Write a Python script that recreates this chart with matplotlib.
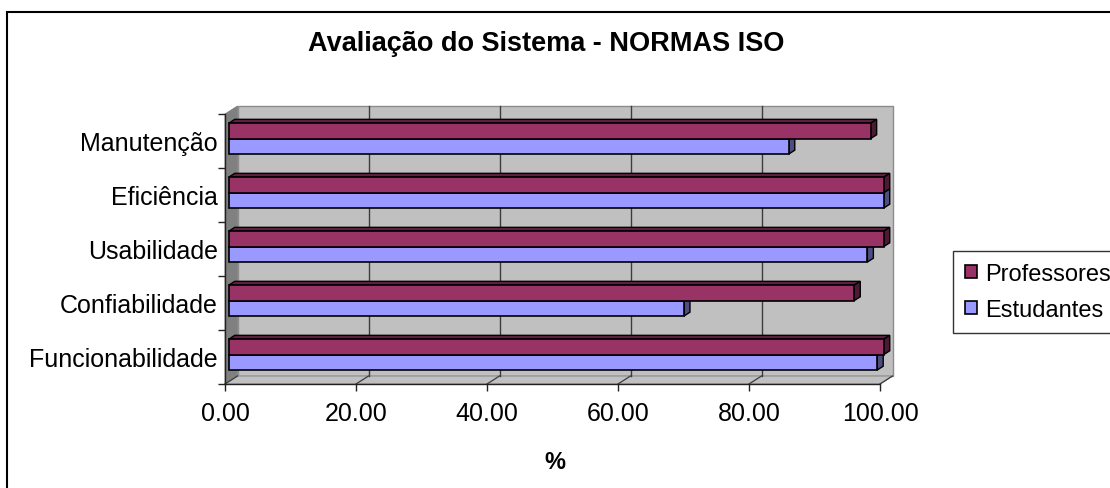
import matplotlib
matplotlib.use("Agg")
import matplotlib.pyplot as plt
from matplotlib.patches import Polygon, Rectangle, Patch

plt.rcParams['font.family'] = ['Liberation Sans', 'DejaVu Sans']

# Data
categories = ["Funcionabilidade", "Confiabilidade", "Usabilidade", "Eficiência", "Manutenção"]
estudantes = [99.0, 69.5, 97.5, 100.0, 85.5]
professores = [100.0, 95.5, 100.0, 100.0, 98.0]
series_names = ["Professores", "Estudantes"]
xticks = [0, 20, 40, 60, 80, 100]
xtick_labels = ["0.00", "20.00", "40.00", "60.00", "80.00", "100.00"]
title = "Avaliação do Sistema - NORMAS ISO"
xlabel = "%"

# Colours
c_prof, c_prof_side, c_prof_top = "#993366", "#4D1A33", "#5E2140"
c_est, c_est_side, c_est_top = "#9999FF", "#4D4D80", "#6B6BB3"
c_wall, c_side_wall, c_floor = "#C0C0C0", "#808080", "#C0C0C0"

W, H = 1110, 489
fig = plt.figure(figsize=(W / 100, H / 100), dpi=100)

# front plane of the 3-D box
ax_left, ax_bottom, ax_w, ax_h = 225, 104, 655, 270
ax = fig.add_axes([ax_left / W, ax_bottom / H, ax_w / W, ax_h / H])
ax.set_xlim(0, 100)
ax.set_ylim(-0.5, len(categories) - 0.5)
ax.patch.set_visible(False)

# depth of the box (pixels -> data units)
depth_px_x, depth_px_y = 12.5, 8.0
dx = depth_px_x / ax_w * 100
dy = depth_px_y / ax_h * len(categories)
y0, y1 = -0.5, len(categories) - 0.5

# back wall, side wall, floor
ax.add_patch(Polygon([(dx, y0 + dy), (100 + dx, y0 + dy), (100 + dx, y1 + dy), (dx, y1 + dy)],
                     closed=True, facecolor=c_wall, edgecolor="#8C8C8C", lw=1.0, zorder=0.5, clip_on=False))
ax.add_patch(Polygon([(0, y0), (0, y1), (dx, y1 + dy), (dx, y0 + dy)],
                     closed=True, facecolor=c_side_wall, edgecolor=c_side_wall, lw=0.6, zorder=0.6, clip_on=False))
ax.add_patch(Polygon([(0, y0), (100, y0), (100 + dx, y0 + dy), (dx, y0 + dy)],
                     closed=True, facecolor=c_floor, edgecolor="#8C8C8C", lw=0.8, zorder=0.6, clip_on=False))

# gridlines on back wall and floor
for xv in xticks[1:-1]:
    ax.plot([xv + dx, xv + dx], [y0 + dy, y1 + dy], color="#3C3C3C", lw=1.0, zorder=0.7, clip_on=False)
for xv in xticks:
    ax.plot([xv, xv + dx], [y0, y0 + dy], color="#3C3C3C", lw=0.9, zorder=0.7, clip_on=False)

# bars
w = 1 / 3.5
d1, d2 = 0.30, 0.78
bx, by = d1 * dx, d1 * dy
ddx, ddy = (d2 - d1) * dx, (d2 - d1) * dy


def draw_bar(yc, val, face, side, top, z):
    bars = ax.barh(yc + by, val, height=w, left=bx, color=face, edgecolor="black", lw=1.2, zorder=z)
    for b in bars:
        b.set_clip_on(False)
    yb, yt = yc + by - w / 2, yc + by + w / 2
    xe = bx + val
    ax.add_patch(Polygon([(bx, yt), (xe, yt), (xe + ddx, yt + ddy), (bx + ddx, yt + ddy)], closed=True,
                         facecolor=top, edgecolor="black", lw=1.0, zorder=z - 0.1, clip_on=False))
    ax.add_patch(Polygon([(xe, yb), (xe, yt), (xe + ddx, yt + ddy), (xe + ddx, yb + ddy)], closed=True,
                         facecolor=side, edgecolor="black", lw=1.0, zorder=z - 0.1, clip_on=False))


for i in range(len(categories)):
    z = 2 + (len(categories) - i)
    draw_bar(i - w / 2, estudantes[i], c_est, c_est_side, c_est_top, z)
    draw_bar(i + w / 2, professores[i], c_prof, c_prof_side, c_prof_top, z + 0.5)

# axes: front edges and ticks
for s in ["top", "right"]:
    ax.spines[s].set_visible(False)
for s in ["left", "bottom"]:
    ax.spines[s].set_color("#222222")
    ax.spines[s].set_linewidth(1.0)
    ax.spines[s].set_zorder(1)

ax.set_xticks(xticks)
ax.set_xticklabels(xtick_labels)
ax.tick_params(axis="x", direction="out", length=5, width=1, color="#222222", pad=7, labelsize=18)

ax.set_yticks([k - 0.5 for k in range(len(categories) + 1)])
ax.set_yticklabels([])
ax.set_yticks(range(len(categories)), minor=True)
ax.set_yticklabels(categories, minor=True)
ax.tick_params(axis="y", which="major", direction="out", length=5, width=1, color="#222222")
ax.tick_params(axis="y", which="minor", length=0, pad=5, labelsize=18)

# title and axis title
fig.text(546 / W, 1 - 44 / H, title, ha="center", va="center", fontsize=19.5, fontweight="bold")
fig.text(555 / W, 1 - 463 / H, xlabel, ha="center", va="center", fontsize=17, fontweight="bold")

# legend
handles = [Patch(facecolor=c_prof, edgecolor="black", lw=1.2),
           Patch(facecolor=c_est, edgecolor="black", lw=1.2)]
fig.legend(handles, series_names, loc="upper left", bbox_to_anchor=(953 / W, 1 - 252 / H),
           frameon=True, fancybox=False, edgecolor="black", fontsize=17,
           handlelength=0.5, handleheight=0.5, handletextpad=0.35, labelspacing=0.6,
           borderpad=0.5, borderaxespad=0)

# chart area border
fig.add_artist(Rectangle((6.5 / W, -0.1), 1.2, 1 - 12.5 / H + 0.1, transform=fig.transFigure,
                         fill=False, edgecolor="black", lw=1.5))

fig.savefig("out.png", dpi=100)
